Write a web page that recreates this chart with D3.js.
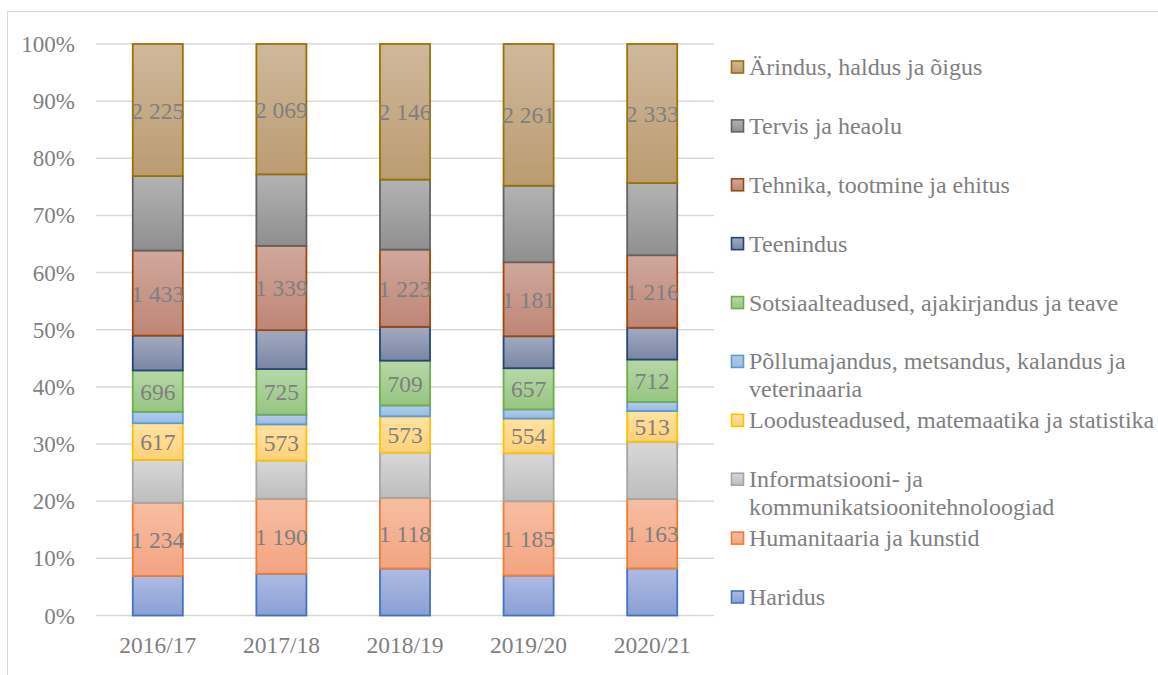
<!DOCTYPE html>
<html>
<head>
<meta charset="utf-8">
<script src="https://cdn.jsdelivr.net/npm/d3@7"></script>
<style>
  html, body { margin: 0; padding: 0; background: #ffffff; }
  svg { display: block; }
</style>
</head>
<body>
<svg id="chart" width="1158" height="675"></svg>
<script>
// ---- DATA ----
const categories = ["2016/17", "2017/18", "2018/19", "2019/20", "2020/21"];
const haridus       = [665, 663, 745, 638, 791];
const humanitaaria  = [1234, 1190, 1118, 1185, 1163];
const informatsioon = [723, 608, 718, 766, 963];
const loodus        = [617, 573, 573, 554, 513];
const pollumajandus = [193, 154, 173, 146, 153];
const sotsiaal      = [696, 725, 709, 657, 712];
const teenindus     = [588, 618, 536, 510, 534];
const tehnika       = [1433, 1339, 1223, 1181, 1216];
const tervis        = [1253, 1135, 1109, 1221, 1211];
const arindus       = [2225, 2069, 2146, 2261, 2333];
const yTicks = [0, 0.1, 0.2, 0.3, 0.4, 0.5, 0.6, 0.7, 0.8, 0.9, 1];

// series in stacking order (bottom -> top)
const series = [
  { key: "haridus", name: "Haridus", values: haridus, label: false, top: "#aebbe3", bottom: "#8b9fd5", stroke: "#4472c4" },
  { key: "humanitaaria", name: "Humanitaaria ja kunstid", values: humanitaaria, label: true, top: "#f7bea3", bottom: "#f3a481", stroke: "#ed7d31" },
  { key: "informatsioon", name: "Informatsiooni- ja kommunikatsioonitehnoloogiad", values: informatsioon, label: false, top: "#d8d8d8", bottom: "#bdbdbd", stroke: "#a5a5a5" },
  { key: "loodus", name: "Loodusteadused, matemaatika ja statistika", values: loodus, label: true, top: "#ffe2a2", bottom: "#ffd179", stroke: "#ffc000" },
  { key: "pollumajandus", name: "Põllumajandus, metsandus, kalandus ja veterinaaria", values: pollumajandus, label: false, top: "#b2cdec", bottom: "#98bbe5", stroke: "#5b9bd5" },
  { key: "sotsiaal", name: "Sotsiaalteadused, ajakirjandus ja teave", values: sotsiaal, label: true, top: "#b7d8a8", bottom: "#96c581", stroke: "#70ad47" },
  { key: "teenindus", name: "Teenindus", values: teenindus, label: false, top: "#a2aabf", bottom: "#7a86a5", stroke: "#264478" },
  { key: "tehnika", name: "Tehnika, tootmine ja ehitus", values: tehnika, label: true, top: "#d0a89d", bottom: "#be8676", stroke: "#9e480e" },
  { key: "tervis", name: "Tervis ja heaolu", values: tervis, label: false, top: "#b3b3b3", bottom: "#8f8f8f", stroke: "#636363" },
  { key: "arindus", name: "Ärindus, haldus ja õigus", values: arindus, label: true, top: "#cfb89b", bottom: "#bb9c72", stroke: "#997300" }
];

const FONT = "'Liberation Serif', 'Times New Roman', serif";

// ---- BUILD TABLE ----
const table = categories.map((c, i) => {
  const row = { category: c };
  series.forEach(s => { row[s.key] = s.values[i]; });
  return row;
});

const stack = d3.stack()
  .keys(series.map(s => s.key))
  .offset(d3.stackOffsetExpand);
const stacked = stack(table);

// ---- SCALES ----
const svg = d3.select("#chart").attr("font-family", FONT);
const x = d3.scaleBand().domain(categories).range([96, 714]).padding(0);
const barW = x.bandwidth() * 0.405;
const y = d3.scaleLinear().domain([0, 1]).range([615.5, 44]);

const textColor = "#7f7f7f";
const fmtNum = d3.formatLocale({ decimal: ",", thousands: "\u00a0", grouping: [3], currency: ["", ""] }).format(",d");

// outer frame
svg.append("rect")
  .attr("x", 7.5).attr("y", 11.5)
  .attr("width", 1170).attr("height", 700)
  .attr("fill", "none").attr("stroke", "#d9d9d9").attr("stroke-width", 1);

// gradients
const defs = svg.append("defs");
series.forEach(s => {
  const g = defs.append("linearGradient")
    .attr("id", "grad-" + s.key)
    .attr("x1", 0).attr("y1", 0).attr("x2", 0).attr("y2", 1);
  g.append("stop").attr("offset", "0%").attr("stop-color", s.top);
  g.append("stop").attr("offset", "100%").attr("stop-color", s.bottom);
});

// gridlines
svg.append("g").selectAll("line")
  .data(yTicks)
  .join("line")
  .attr("x1", x.range()[0]).attr("x2", x.range()[1])
  .attr("y1", d => y(d)).attr("y2", d => y(d))
  .attr("stroke", "#d9d9d9").attr("stroke-width", 1.5);

// y axis labels
const yAxis = d3.axisLeft(y).tickValues(yTicks).tickFormat(d3.format(".0%")).tickSize(0).tickPadding(0);
const gy = svg.append("g").attr("transform", "translate(75,0)").call(yAxis)
  .attr("font-family", FONT).attr("font-size", 23);
gy.select(".domain").remove();
gy.selectAll("text")
  .attr("font-family", FONT)
  .attr("font-size", 23).attr("fill", textColor)
  .attr("dy", null).attr("dominant-baseline", "central");

// x axis labels
const xAxis = d3.axisBottom(x).tickSize(0).tickPadding(0);
const gx = svg.append("g").attr("transform", "translate(0,652.5)").call(xAxis)
  .attr("font-family", FONT).attr("font-size", 23.5);
gx.select(".domain").remove();
gx.selectAll("text")
  .attr("font-family", FONT)
  .attr("font-size", 23.5).attr("fill", textColor)
  .attr("dy", 0).attr("y", 0);

// bars
const layers = svg.append("g").selectAll("g")
  .data(stacked)
  .join("g")
  .attr("fill", (d, i) => "url(#grad-" + series[i].key + ")")
  .attr("stroke", (d, i) => series[i].stroke);

layers.selectAll("rect")
  .data(d => d)
  .join("rect")
  .attr("x", d => x(d.data.category) + (x.bandwidth() - barW) / 2)
  .attr("y", d => y(d[1]))
  .attr("width", barW)
  .attr("height", d => y(d[0]) - y(d[1]))
  .attr("stroke-width", 1.8);

// value labels
stacked.forEach((layer, i) => {
  const s = series[i];
  if (!s.label) return;
  svg.append("g").selectAll("text")
    .data(layer)
    .join("text")
    .attr("x", d => x(d.data.category) + x.bandwidth() / 2)
    .attr("y", d => (y(d[0]) + y(d[1])) / 2 + 8.5)
    .attr("text-anchor", "middle")
    .attr("font-family", FONT)
    .attr("font-size", 23.5)
    .attr("fill", textColor)
    .text(d => fmtNum(d.data[s.key]));
});

// legend (top -> bottom: reverse order)
const legendSeries = series.slice().reverse();
const legY = d3.scalePoint().domain(legendSeries.map(s => s.key)).range([75, 605]);
const maxW = 415;
const leg = svg.append("g");
legendSeries.forEach(s => {
  const by = legY(s.key);
  leg.append("rect")
    .attr("x", 731.5).attr("y", by - 14)
    .attr("width", 12).attr("height", 12)
    .attr("fill", "url(#grad-" + s.key + ")")
    .attr("stroke", s.stroke).attr("stroke-width", 1.6);
  const t = leg.append("text")
    .attr("x", 749).attr("y", by)
    .attr("font-family", FONT)
    .attr("font-size", 24).attr("fill", textColor);
  // word wrap
  const words = s.name.split(" ");
  let line = [];
  let tspan = t.append("tspan").attr("x", 749).attr("y", by);
  let lineNo = 0;
  words.forEach(w => {
    line.push(w);
    tspan.text(line.join(" "));
    if (tspan.node().getComputedTextLength() > maxW && line.length > 1) {
      line.pop();
      tspan.text(line.join(" "));
      line = [w];
      lineNo++;
      tspan = t.append("tspan").attr("x", 749).attr("y", by + lineNo * 27.5).text(w);
    }
  });
});
</script>
</body>
</html>
